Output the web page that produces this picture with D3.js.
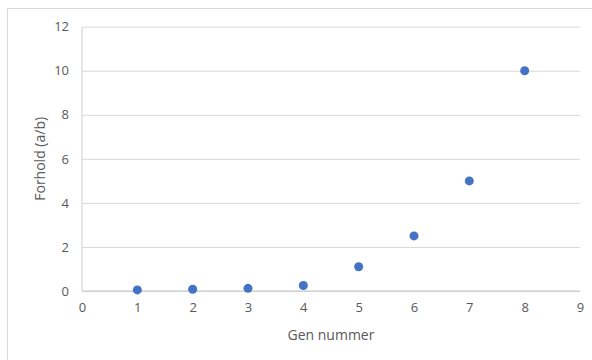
<!DOCTYPE html>
<html><head><meta charset="utf-8">
<script src="https://cdn.jsdelivr.net/npm/d3@7"></script>
<style>body{margin:0;background:#fff;} text{font-family:"Open Sans","Liberation Sans",sans-serif;}</style>
</head><body><svg id="c" width="592" height="360"></svg>
<script>
const genNumbers = [1, 2, 3, 4, 5, 6, 7, 8];
const ratios = [0.05, 0.08, 0.12, 0.25, 1.1, 2.5, 5, 10];
const xTicks = [0,1,2,3,4,5,6,7,8,9];
const yTicks = [0,2,4,6,8,10,12];
const xTitle = "Gen nummer";
const yTitle = "Forhold (a/b)";

const svg = d3.select("#c");
svg.append("rect").attr("x",7.5).attr("y",8.5).attr("width",600).attr("height",400)
  .attr("fill","#fff").attr("stroke","#d9d9d9");
const L=82, R=580, T=26.7, B=291;
const x = d3.scaleLinear().domain([0,9]).range([L,R]);
const y = d3.scaleLinear().domain([0,12]).range([B,T]);

const gy = svg.append("g").attr("transform",`translate(${L},0)`)
  .call(d3.axisLeft(y).tickValues(yTicks).tickSize(-(R-L)).tickPadding(13).tickFormat(d3.format("d")));
gy.select(".domain").remove();
gy.selectAll(".tick line").attr("stroke","#d9d9d9").attr("stroke-width",1);
gy.selectAll(".tick text").attr("fill","#595959").style("font-size","13px");

svg.append("line").attr("x1",L).attr("x2",L).attr("y1",T).attr("y2",B).attr("stroke","#d0d0d0");
svg.append("line").attr("x1",L).attr("x2",R).attr("y1",y(0)).attr("y2",y(0)).attr("stroke","#c8c8c8");

const gx = svg.append("g").attr("transform",`translate(0,${B})`)
  .call(d3.axisBottom(x).tickValues(xTicks).tickSize(0).tickPadding(12).tickFormat(d3.format("d")));
gx.select(".domain").remove();
gx.selectAll(".tick text").attr("fill","#595959").style("font-size","13px");

svg.selectAll("circle.pt").data(genNumbers).enter().append("circle").attr("class","pt")
  .attr("cx",d=>x(d)).attr("cy",(d,i)=>y(ratios[i])).attr("r",4.5).attr("fill","#4472C4");

svg.append("text").attr("x",(L+R)/2).attr("y",340).attr("text-anchor","middle")
  .attr("fill","#595959").style("font-size","14px").text(xTitle);
svg.append("text").attr("transform",`translate(45,${(T+B)/2}) rotate(-90)`).attr("text-anchor","middle")
  .attr("fill","#595959").style("font-size","14px").text(yTitle);
</script></body></html>
